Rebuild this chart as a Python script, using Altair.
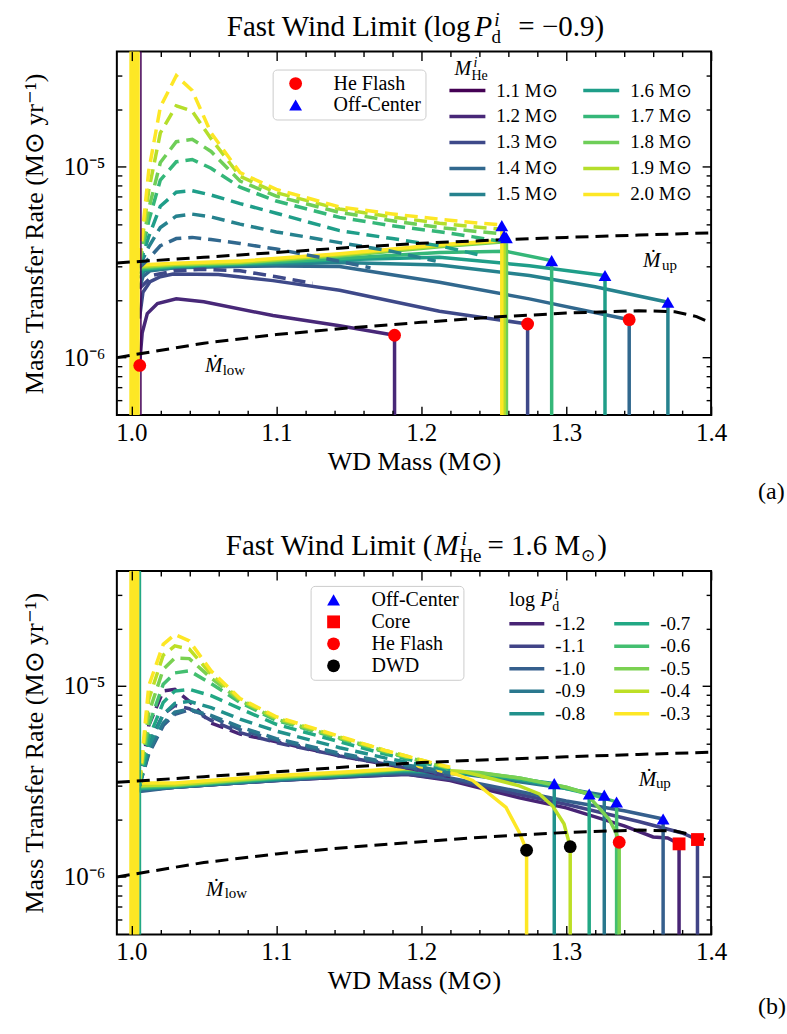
import altair as alt
import pandas as pd

FONT = "Liberation Serif"
SUN = "\u2299"
MDOT = "\u1e40"

# ---------------- axes ----------------
X_DOMAIN = [0.99, 1.4]
Y_DOMAIN = [5e-7, 4e-5]
X_MAJOR = [1.0, 1.1, 1.2, 1.3, 1.4]
X_MINOR = [1.02, 1.04, 1.06, 1.08, 1.12, 1.14, 1.16, 1.18, 1.22, 1.24, 1.26, 1.28, 1.32, 1.34, 1.36, 1.38]
Y_MAJOR = [1e-6, 1e-5]
Y_MINOR = [6e-7, 7e-7, 8e-7, 9e-7, 2e-6, 3e-6, 4e-6, 5e-6, 6e-6, 7e-6, 8e-6, 9e-6, 2e-5, 3e-5]
Y_BELOW = 1e-8
Y_ABOVE = 1e-3

# ---------------- stability limits ----------------
UP_X = [0.99, 1.05, 1.1, 1.15, 1.2, 1.25, 1.3, 1.35, 1.4]
UP_Y = [3.13e-6, 3.35e-6, 3.55e-6, 3.77e-6, 3.97e-6, 4.12e-6, 4.26e-6, 4.38e-6, 4.5e-6]
LOW_X = [0.99, 1.05, 1.1, 1.15, 1.2, 1.25, 1.3, 1.35, 1.375, 1.39, 1.4]
LOW_Y = [1.0e-6, 1.19e-6, 1.32e-6, 1.43e-6, 1.53e-6, 1.63e-6, 1.71e-6, 1.76e-6, 1.74e-6, 1.64e-6, 1.52e-6]

# ---------------- panel (a) ----------------
A_NAMES = ["1.1", "1.2", "1.3", "1.4", "1.5", "1.6", "1.7", "1.8", "1.9", "2.0"]
A_COLORS = ["#440154", "#482878", "#3e4989", "#31688e", "#26828e",
            "#1f9e89", "#35b779", "#6ece58", "#b5de2b", "#fde725"]

SA_12_X = [1.0056, 1.0075, 1.011, 1.018, 1.031, 1.05, 1.0977, 1.1437, 1.1816]
SA_12_Y = [9.0e-7, 1.35e-6, 1.7e-6, 1.92e-6, 2.03e-6, 1.96e-6, 1.66e-6, 1.47e-6, 1.31e-6]
SA_13_X = [1.0056, 1.008, 1.013, 1.02, 1.0288, 1.06, 1.0977, 1.1437, 1.2126, 1.2734]
SA_13_Y = [1.6e-6, 2.2e-6, 2.5e-6, 2.65e-6, 2.74e-6, 2.72e-6, 2.53e-6, 2.25e-6, 1.75e-6, 1.50e-6]
SA_14_X = [1.0056, 1.008, 1.013, 1.03, 1.07, 1.1, 1.1437, 1.2126, 1.2746, 1.3435]
SA_14_Y = [2.3e-6, 2.65e-6, 2.85e-6, 2.95e-6, 3.0e-6, 3.02e-6, 3.0e-6, 2.48e-6, 2.03e-6, 1.58e-6]
SA_15_X = [1.0056, 1.009, 1.03, 1.0748, 1.1437, 1.2126, 1.2746, 1.32, 1.3702]
SA_15_Y = [2.6e-6, 2.85e-6, 2.95e-6, 3.05e-6, 3.15e-6, 3.05e-6, 2.69e-6, 2.35e-6, 1.95e-6]
SA_16_X = [1.0056, 1.009, 1.03, 1.0748, 1.1437, 1.2126, 1.2746, 1.3268]
SA_16_Y = [2.75e-6, 2.9e-6, 3.0e-6, 3.08e-6, 3.25e-6, 3.35e-6, 3.03e-6, 2.69e-6]
SA_17_X = [1.0056, 1.03, 1.0748, 1.1437, 1.2126, 1.2585, 1.29]
SA_17_Y = [2.9e-6, 3.02e-6, 3.1e-6, 3.3e-6, 3.55e-6, 3.6e-6, 3.22e-6]
SA_18_X = [1.0056, 1.03, 1.0748, 1.1437, 1.2126, 1.2588, 1.2588]
SA_18_Y = [2.95e-6, 3.05e-6, 3.13e-6, 3.4e-6, 3.8e-6, 4.05e-6, 4.25e-6]
SA_19_X = [1.0056, 1.03, 1.0748, 1.1437, 1.2126, 1.2572, 1.2572]
SA_19_Y = [3.0e-6, 3.08e-6, 3.16e-6, 3.45e-6, 3.85e-6, 4.08e-6, 4.35e-6]
SA_20_X = [1.0056, 1.03, 1.0748, 1.1437, 1.2126, 1.2556, 1.2556]
SA_20_Y = [3.05e-6, 3.12e-6, 3.2e-6, 3.5e-6, 3.9e-6, 4.1e-6, 4.91e-6]

A_DASH_X = [1.0056, 1.012, 1.02, 1.031, 1.042, 1.055, 1.075, 1.1, 1.1437, 1.18, 1.2126, 1.235, 1.2555]
DA_20_Y = [3.2e-6, 9.5e-6, 2.05e-5, 2.99e-5, 2.5e-5, 1.5e-5, 9.3e-6, 7.6e-6, 6.15e-6, 5.65e-6, 5.3e-6, 5.1e-6, 4.95e-6]
DA_19_Y = [3.2e-6, 7.5e-6, 1.5e-5, 2.08e-5, 1.95e-5, 1.4e-5, 8.9e-6, 7.3e-6, 6.0e-6, 5.45e-6, 5.05e-6, 4.85e-6, 4.7e-6]
DA_18_Y = [3.1e-6, 6.0e-6, 1.05e-5, 1.35e-5, 1.39e-5, 1.2e-5, 8.4e-6, 7.0e-6, 5.76e-6, 5.2e-6, 4.8e-6, 4.6e-6, 4.45e-6]
DA_17_Y = [3.1e-6, 5.2e-6, 8.5e-6, 1.06e-5, 1.09e-5, 9.8e-6, 7.8e-6, 6.6e-6, 5.42e-6, 4.9e-6, 4.56e-6, 4.3e-6, 4.05e-6]
DA_16_X = [1.0056, 1.012, 1.02, 1.031, 1.042, 1.055, 1.075, 1.1, 1.1437, 1.18, 1.2126, 1.24]
DA_16_Y = [3.05e-6, 4.3e-6, 6.2e-6, 7.35e-6, 7.48e-6, 7.1e-6, 6.4e-6, 5.7e-6, 4.62e-6, 4.2e-6, 3.85e-6, 3.45e-6]
DA_15_X = [1.0056, 1.012, 1.02, 1.031, 1.042, 1.055, 1.075, 1.1, 1.1437, 1.18, 1.21]
DA_15_Y = [3.0e-6, 3.8e-6, 4.8e-6, 5.5e-6, 5.64e-6, 5.45e-6, 5.0e-6, 4.55e-6, 4.0e-6, 3.6e-6, 3.2e-6]
DA_14_X = [1.0056, 1.012, 1.02, 1.031, 1.042, 1.055, 1.075, 1.1, 1.13, 1.165]
DA_14_Y = [2.95e-6, 3.3e-6, 3.85e-6, 4.2e-6, 4.26e-6, 4.15e-6, 3.96e-6, 3.7e-6, 3.35e-6, 2.95e-6]
DA_13_X = [1.0056, 1.015, 1.03, 1.05, 1.075, 1.1, 1.125]
DA_13_Y = [2.3e-6, 2.7e-6, 2.85e-6, 2.9e-6, 2.85e-6, 2.65e-6, 2.45e-6]

A_START_NAMES = ["1.1", "2.0"]
A_START_X = [1.0066, 1.0022]
A_START_W = [1.5, 10.5]

A_TYPES = ["He Flash", "Off-Center"]
A_FILLS = ["#ff0000", "#0000ff"]
A_SHAPES = ["circle", "triangle-up"]
A_FLASH_X = [1.0058, 1.1816, 1.2734, 1.3435]
A_FLASH_Y = [9.1e-7, 1.31e-6, 1.50e-6, 1.58e-6]
A_OFF_X = [1.2556, 1.2572, 1.2588, 1.29, 1.3268, 1.3702]
A_OFF_Y = [4.91e-6, 4.35e-6, 4.25e-6, 3.22e-6, 2.69e-6, 1.95e-6]

A_MDOT_X = [1.359, 1.0568]
A_MDOT_Y = [2.97e-6, 8.4e-7]
A_MSUB_X = [1.3662, 1.063]
A_MSUB_Y = [2.86e-6, 8.1e-7]
A_MSUB_T = ["up", "low"]

# ---------------- panel (b) ----------------
B_NAMES = ["-1.2", "-1.1", "-1.0", "-0.9", "-0.8", "-0.7", "-0.6", "-0.5", "-0.4", "-0.3"]
B_COLORS = ["#482475", "#414487", "#355f8d", "#2a788e", "#21918c",
            "#22a884", "#44bf70", "#7ad151", "#bddf26", "#fde725"]

SB_12_X = [1.0056, 1.03, 1.1, 1.15, 1.19, 1.22, 1.2677, 1.3, 1.34, 1.36, 1.37, 1.3779]
SB_12_Y = [2.85e-6, 2.95e-6, 3.2e-6, 3.35e-6, 3.45e-6, 3.2e-6, 2.6e-6, 2.3e-6, 1.85e-6, 1.62e-6, 1.6e-6, 1.49e-6]
SB_11_X = [1.0056, 1.03, 1.1, 1.15, 1.19, 1.22, 1.2677, 1.3, 1.35, 1.38, 1.3906]
SB_11_Y = [2.85e-6, 2.95e-6, 3.2e-6, 3.35e-6, 3.45e-6, 3.25e-6, 2.7e-6, 2.4e-6, 1.95e-6, 1.7e-6, 1.57e-6]
SB_10_X = [1.0056, 1.03, 1.1, 1.15, 1.19, 1.22, 1.2677, 1.3, 1.34, 1.3669]
SB_10_Y = [2.8e-6, 2.95e-6, 3.2e-6, 3.38e-6, 3.5e-6, 3.3e-6, 2.8e-6, 2.5e-6, 2.22e-6, 2.01e-6]
SB_09_X = [1.0056, 1.03, 1.1, 1.15, 1.19, 1.23, 1.2677, 1.3, 1.3263]
SB_09_Y = [2.85e-6, 2.95e-6, 3.22e-6, 3.4e-6, 3.55e-6, 3.45e-6, 3.15e-6, 2.9e-6, 2.68e-6]
SB_08_X = [1.0056, 1.03, 1.1, 1.15, 1.19, 1.24, 1.2677, 1.2918]
SB_08_Y = [2.9e-6, 2.97e-6, 3.25e-6, 3.42e-6, 3.6e-6, 3.45e-6, 3.25e-6, 3.08e-6]
SB_07_X = [1.0056, 1.03, 1.1, 1.15, 1.19, 1.24, 1.2677, 1.2918, 1.3159]
SB_07_Y = [2.9e-6, 2.98e-6, 3.27e-6, 3.45e-6, 3.62e-6, 3.45e-6, 3.25e-6, 3.0e-6, 2.72e-6]
SB_06_X = [1.0056, 1.03, 1.1, 1.15, 1.19, 1.24, 1.2677, 1.3, 1.3348]
SB_06_Y = [2.95e-6, 3.0e-6, 3.3e-6, 3.47e-6, 3.65e-6, 3.5e-6, 3.3e-6, 2.95e-6, 2.47e-6]
SB_05_X = [1.0056, 1.03, 1.1, 1.15, 1.19, 1.24, 1.2677, 1.3, 1.3137, 1.3297, 1.3343, 1.3366]
SB_05_Y = [3.0e-6, 3.02e-6, 3.32e-6, 3.5e-6, 3.68e-6, 3.52e-6, 3.3e-6, 2.95e-6, 2.74e-6, 2.0e-6, 1.71e-6, 1.52e-6]
SB_04_X = [1.0056, 1.03, 1.1, 1.15, 1.19, 1.23, 1.2677, 1.2815, 1.2907, 1.2985, 1.3028]
SB_04_Y = [3.0e-6, 3.05e-6, 3.35e-6, 3.52e-6, 3.7e-6, 3.55e-6, 3.0e-6, 2.72e-6, 2.35e-6, 1.9e-6, 1.44e-6]
SB_03_X = [1.0056, 1.03, 1.1, 1.15, 1.2, 1.224, 1.2355, 1.2585, 1.2677, 1.2727]
SB_03_Y = [3.1e-6, 3.1e-6, 3.4e-6, 3.55e-6, 3.75e-6, 3.45e-6, 3.2e-6, 2.31e-6, 1.71e-6, 1.38e-6]

B_DASH_X = [1.0056, 1.012, 1.022, 1.03, 1.04, 1.055, 1.075, 1.1, 1.1437, 1.175, 1.205, 1.22]
DB_12_Y = [3.0e-6, 6.2e-6, 9.4e-6, 9.6e-6, 8.3e-6, 6.4e-6, 5.6e-6, 5.1e-6, 4.3e-6, 3.9e-6, 3.55e-6, 3.35e-6]
DB_11_Y = [3.0e-6, 5.0e-6, 7.1e-6, 7.9e-6, 7.6e-6, 6.6e-6, 5.7e-6, 5.05e-6, 4.3e-6, 3.9e-6, 3.55e-6, 3.35e-6]
DB_10_Y = [3.0e-6, 4.4e-6, 6.2e-6, 7.1e-6, 7.5e-6, 6.9e-6, 5.9e-6, 5.2e-6, 4.35e-6, 3.95e-6, 3.6e-6, 3.4e-6]
DB_09_Y = [3.0e-6, 4.5e-6, 6.4e-6, 7.3e-6, 7.55e-6, 7.0e-6, 6.1e-6, 5.3e-6, 4.45e-6, 4.0e-6, 3.7e-6, 3.5e-6]
DB_08_Y = [3.0e-6, 4.8e-6, 7.1e-6, 8.1e-6, 8.3e-6, 7.7e-6, 6.7e-6, 5.8e-6, 4.75e-6, 4.2e-6, 3.8e-6, 3.6e-6]
DB_07_Y = [3.0e-6, 5.3e-6, 8.2e-6, 9.4e-6, 9.6e-6, 8.9e-6, 7.6e-6, 6.3e-6, 5.1e-6, 4.4e-6, 3.9e-6, 3.65e-6]
DB_06_Y = [3.05e-6, 6.2e-6, 1.02e-5, 1.17e-5, 1.2e-5, 1.03e-5, 8.2e-6, 6.6e-6, 5.3e-6, 4.5e-6, 3.95e-6, 3.68e-6]
DB_05_Y = [3.05e-6, 7.2e-6, 1.22e-5, 1.4e-5, 1.39e-5, 1.1e-5, 8.4e-6, 6.7e-6, 5.35e-6, 4.55e-6, 3.95e-6, 3.7e-6]
DB_04_Y = [3.1e-6, 8.5e-6, 1.45e-5, 1.62e-5, 1.56e-5, 1.15e-5, 8.5e-6, 6.8e-6, 5.4e-6, 4.6e-6, 4.0e-6, 3.72e-6]
DB_03_Y = [3.1e-6, 1.0e-5, 1.65e-5, 1.86e-5, 1.72e-5, 1.2e-5, 8.6e-6, 6.9e-6, 5.45e-6, 4.6e-6, 4.0e-6, 3.75e-6]

B_START_NAMES = ["-0.7", "-0.3"]
B_START_X = [1.0061, 1.002]
B_START_W = [2.0, 10.0]

B_TYPES = ["Off-Center", "Core", "He Flash", "DWD"]
B_FILLS = ["#0000ff", "#ff0000", "#ff0000", "#000000"]
B_SHAPES = ["triangle-up", "square", "circle", "circle"]
B_OFF_X = [1.2918, 1.3159, 1.3263, 1.3348, 1.3669]
B_OFF_Y = [3.08e-6, 2.72e-6, 2.68e-6, 2.47e-6, 2.01e-6]
B_CORE_X = [1.3779, 1.3906]
B_CORE_Y = [1.49e-6, 1.57e-6]
B_FLASH_X = [1.3366]
B_FLASH_Y = [1.52e-6]
B_DWD_X = [1.2727, 1.3028]
B_DWD_Y = [1.38e-6, 1.44e-6]

B_MDOT_X = [1.3561, 1.0575]
B_MDOT_Y = [3.0e-6, 7.97e-7]
B_MSUB_X = [1.3619, 1.0644]
B_MSUB_Y = [2.93e-6, 7.8e-7]
B_MSUB_T = ["up", "low"]

# ---------------- layout ----------------
W, H = 595, 364
DASH = [13, 7]


def line_df(names, xs_list, ys_list, drop):
    rows = []
    for name, xs, ys in zip(names, xs_list, ys_list):
        for i, (x, y) in enumerate(zip(xs, ys)):
            rows.append(dict(series=name, x=x, y=y, i=i))
        if drop:
            rows.append(dict(series=name, x=xs[-1], y=Y_BELOW, i=len(xs)))
    return pd.DataFrame(rows)


def start_df(names, xs, ws):
    rows = []
    for n, x, w in zip(names, xs, ws):
        rows.append(dict(series=n, x=x, y=Y_BELOW, i=0, sw=w))
        rows.append(dict(series=n, x=x, y=Y_ABOVE, i=1, sw=w))
    return pd.DataFrame(rows)


def marks_df(types, xs_list, ys_list):
    rows = []
    for t, xs, ys in zip(types, xs_list, ys_list):
        for x, y in zip(xs, ys):
            rows.append(dict(type=t, x=x, y=y))
    return pd.DataFrame(rows)


def X(axis):
    return alt.X("x:Q", scale=alt.Scale(domain=X_DOMAIN, nice=False, zero=False), axis=axis)


def Y(axis):
    return alt.Y("y:Q", scale=alt.Scale(type="log", domain=Y_DOMAIN, nice=False), axis=axis)


def tick_axis(orient, values, size):
    off = -H if orient in ("top", "bottom") else -W
    return alt.Axis(orient=orient, offset=off, values=values, tickSize=size, tickWidth=1.4,
                    tickColor="black", labels=False, domain=False, grid=False, title=None, zindex=1)


AX_X = alt.Axis(orient="bottom", values=X_MAJOR, format=".1f", ticks=False, domain=False, grid=False,
                labelFont=FONT, labelFontSize=25, labelColor="black", labelPadding=5, labelFlush=False,
                title=f"WD Mass (M{SUN})", titleFont=FONT, titleFontSize=26, titleFontWeight="normal",
                titleColor="black", titlePadding=3)
AX_Y = alt.Axis(orient="left", values=Y_MAJOR,
                labelExpr="datum.value < 5e-6 ? '10\u207b\u2076' : '10\u207b\u2075'",
                ticks=False, domain=False, grid=False,
                labelFont=FONT, labelFontSize=25, labelColor="black", labelPadding=12,
                title=f"Mass Transfer Rate (M{SUN} yr\u207b\u00b9)", titleFont=FONT, titleFontSize=26,
                titleFontWeight="normal", titleColor="black", titlePadding=16)


def text_layers(items):
    # items: (text, px, py, fontsize, style, align)
    df = pd.DataFrame(items, columns=["t", "px", "py", "fs", "style", "align"])
    layers = []
    for (style, align), g in df.groupby(["style", "align"]):
        layers.append(
            alt.Chart(g).mark_text(font=FONT, fontStyle=style, align=align, baseline="alphabetic",
                                   color="black").encode(
                x=alt.X("px:Q", scale=None, axis=None),
                y=alt.Y("py:Q", scale=None, axis=None),
                text="t:N",
                size=alt.Size("fs:Q", scale=None),
            )
        )
    return layers


def build_panel(colors, labels, solid_df, dash_df, st_df, mk_df, types, fills, shapes,
                mdot_df, msub_df, pix_items, cleg, mleg):
    cscale = alt.Scale(domain=labels, range=colors)
    solid = alt.Chart(solid_df).mark_line(clip=True, strokeWidth=3.5).encode(
        x=X(AX_X), y=Y(AX_Y),
        color=alt.Color("series:N", scale=cscale, legend=cleg), order=alt.Order("i:Q"))
    dash = alt.Chart(dash_df).mark_line(clip=True, strokeWidth=3.5, strokeDash=DASH).encode(
        x=X(tick_axis("bottom", X_MAJOR, 9)), y=Y(tick_axis("right", Y_MAJOR, 9)),
        stroke=alt.Stroke("series:N", scale=cscale, legend=None), order=alt.Order("i:Q"))
    start = alt.Chart(st_df).mark_line(clip=True).encode(
        x=X(tick_axis("bottom", X_MINOR, 5)), y=Y(tick_axis("right", Y_MINOR, 5)),
        stroke=alt.Stroke("series:N", scale=cscale, legend=None),
        strokeWidth=alt.StrokeWidth("sw:Q", scale=None), order=alt.Order("i:Q"))
    ref = alt.Chart(pd.DataFrame({"x": UP_X + LOW_X, "y": UP_Y + LOW_Y,
                                  "k": ["up"] * len(UP_X) + ["low"] * len(LOW_X),
                                  "i": list(range(len(UP_X))) + list(range(len(LOW_X)))})).mark_line(
        clip=True, color="black", strokeWidth=3, strokeDash=DASH).encode(
        x=X(tick_axis("top", X_MAJOR, 9)), y=Y(tick_axis("left", Y_MAJOR, 9)),
        detail="k:N", order=alt.Order("i:Q"))
    pts = alt.Chart(mk_df).mark_point(filled=True, size=165, opacity=1, strokeWidth=0).encode(
        x=X(tick_axis("top", X_MINOR, 5)), y=Y(tick_axis("left", Y_MINOR, 5)),
        fill=alt.Fill("type:N", scale=alt.Scale(domain=types, range=fills), legend=mleg),
        shape=alt.Shape("type:N", scale=alt.Scale(domain=types, range=shapes), legend=mleg))
    md = alt.Chart(mdot_df).mark_text(font=FONT, fontStyle="italic", fontSize=21, align="center",
                                      baseline="alphabetic", color="black").encode(
        x=X(None), y=Y(None), text="t:N")
    ms = alt.Chart(msub_df).mark_text(font=FONT, fontSize=15, align="left",
                                      baseline="alphabetic", color="black").encode(
        x=X(None), y=Y(None), text="t:N")
    layers = [solid, dash, start, ref, pts, md, ms] + text_layers(pix_items)
    return alt.layer(*layers).resolve_axis(x="independent", y="independent").properties(width=W, height=H)


def color_legend(lx, ly, clip_h, row_pad, col_pad, sym_len, lab_off):
    return alt.Legend(title=None, orient="none", legendX=lx, legendY=ly, direction="vertical", columns=2,
                      columnPadding=col_pad, rowPadding=row_pad, clipHeight=clip_h, padding=0,
                      symbolType="stroke", symbolSize=sym_len * sym_len, symbolStrokeWidth=3.5,
                      labelFont=FONT, labelFontSize=19, labelColor="black", labelOffset=lab_off)


def marker_legend(lx, ly, row_pad):
    return alt.Legend(title=None, orient="none", legendX=lx, legendY=ly, direction="vertical",
                      padding=4, strokeColor="#cccccc", fillColor="white", cornerRadius=4,
                      symbolSize=165, symbolStrokeWidth=0, symbolOffset=9, labelOffset=28,
                      rowPadding=row_pad, labelFont=FONT, labelFontSize=20, labelColor="black")


# ---- panel (a) assembly ----
A_LABELS = [f"{n} M{SUN}" for n in A_NAMES]
lab_a = dict(zip(A_NAMES, A_LABELS))
a_solid = line_df([lab_a[n] for n in ["1.2", "1.3", "1.4", "1.5", "1.6", "1.7", "1.8", "1.9", "2.0"]],
                  [SA_12_X, SA_13_X, SA_14_X, SA_15_X, SA_16_X, SA_17_X, SA_18_X, SA_19_X, SA_20_X],
                  [SA_12_Y, SA_13_Y, SA_14_Y, SA_15_Y, SA_16_Y, SA_17_Y, SA_18_Y, SA_19_Y, SA_20_Y], True)
a_dash = line_df([lab_a[n] for n in ["1.3", "1.4", "1.5", "1.6", "1.7", "1.8", "1.9", "2.0"]],
                 [DA_13_X, DA_14_X, DA_15_X, DA_16_X, A_DASH_X, A_DASH_X, A_DASH_X, A_DASH_X],
                 [DA_13_Y, DA_14_Y, DA_15_Y, DA_16_Y, DA_17_Y, DA_18_Y, DA_19_Y, DA_20_Y], False)
a_start = start_df([lab_a[n] for n in A_START_NAMES], A_START_X, A_START_W)
a_marks = marks_df(A_TYPES, [A_FLASH_X, A_OFF_X], [A_FLASH_Y, A_OFF_Y])
a_mdot = pd.DataFrame({"x": A_MDOT_X, "y": A_MDOT_Y, "t": [MDOT, MDOT]})
a_msub = pd.DataFrame({"x": A_MSUB_X, "y": A_MSUB_Y, "t": A_MSUB_T})
a_pix = [
    ("Fast Wind Limit (log", 354, -16, 29, "normal", "right"),
    ("P", 358, -16, 29, "italic", "left"),
    ("i", 378, -26, 19, "italic", "left"),
    ("d", 375, -9, 19, "normal", "left"),
    ("= \u22120.9)", 402, -16, 29, "normal", "left"),
    ("M", 338, 23, 20, "italic", "left"),
    ("i", 357, 15, 14, "italic", "left"),
    ("He", 355, 28, 14, "normal", "left"),
    ("(a)", 642, 448, 24, "normal", "left"),
]
panel_a = build_panel(A_COLORS, A_LABELS, a_solid, a_dash, a_start, a_marks,
                      A_TYPES, A_FILLS, A_SHAPES, a_mdot, a_msub, a_pix,
                      color_legend(331, 30, 18, 7, 23, 36, 9), marker_legend(156, 18, 1.5))

# ---- panel (b) assembly ----
b_solid = line_df(B_NAMES,
                  [SB_12_X, SB_11_X, SB_10_X, SB_09_X, SB_08_X, SB_07_X, SB_06_X, SB_05_X, SB_04_X, SB_03_X],
                  [SB_12_Y, SB_11_Y, SB_10_Y, SB_09_Y, SB_08_Y, SB_07_Y, SB_06_Y, SB_05_Y, SB_04_Y, SB_03_Y], True)
b_dash = line_df(B_NAMES, [B_DASH_X] * 10,
                 [DB_12_Y, DB_11_Y, DB_10_Y, DB_09_Y, DB_08_Y, DB_07_Y, DB_06_Y, DB_05_Y, DB_04_Y, DB_03_Y], False)
b_start = start_df(B_START_NAMES, B_START_X, B_START_W)
b_marks = marks_df(B_TYPES, [B_OFF_X, B_CORE_X, B_FLASH_X, B_DWD_X], [B_OFF_Y, B_CORE_Y, B_FLASH_Y, B_DWD_Y])
b_mdot = pd.DataFrame({"x": B_MDOT_X, "y": B_MDOT_Y, "t": [MDOT, MDOT]})
b_msub = pd.DataFrame({"x": B_MSUB_X, "y": B_MSUB_Y, "t": B_MSUB_T})
b_pix = [
    ("Fast Wind Limit (", 316, -16, 29, "normal", "right"),
    ("M", 318, -16, 29, "italic", "left"),
    ("i", 345, -26, 19, "italic", "left"),
    ("He", 343, -9, 19, "normal", "left"),
    ("= 1.6 M", 371, -16, 29, "normal", "left"),
    (SUN, 465, -10, 17, "normal", "left"),
    (")", 481, -16, 29, "normal", "left"),
    ("log", 393, 35, 20, "normal", "left"),
    ("P", 424, 35, 20, "italic", "left"),
    ("i", 438, 28, 14, "italic", "left"),
    ("d", 436, 40, 14, "normal", "left"),
    ("(b)", 642, 444, 24, "normal", "left"),
]
panel_b = build_panel(B_COLORS, B_NAMES, b_solid, b_dash, b_start, b_marks,
                      B_TYPES, B_FILLS, B_SHAPES, b_mdot, b_msub, b_pix,
                      color_legend(391, 45, 16, 3.5, 26, 35, 9), marker_legend(194, 15, 2))

chart = alt.vconcat(panel_a, panel_b, spacing=24).resolve_scale(
    color="independent", stroke="independent", fill="independent", shape="independent",
    x="independent", y="independent").resolve_legend(
    color="independent", stroke="independent", fill="independent", shape="independent").configure_view(
    stroke="black", strokeWidth=2).properties(padding={"left": 20, "top": 9, "right": 0, "bottom": 0})

chart.save("out.html", embed_options={"renderer": "svg", "actions": False})
